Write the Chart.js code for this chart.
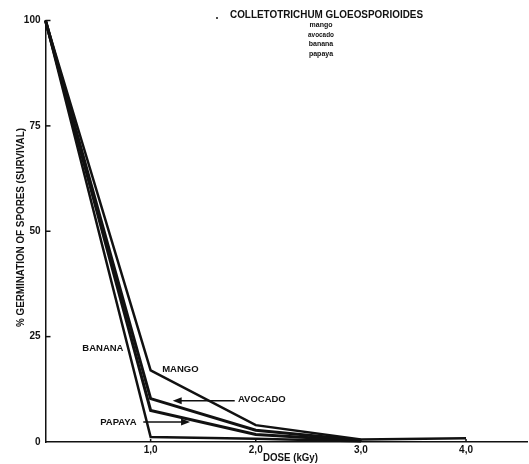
<!DOCTYPE html>
<html>
<head>
<meta charset="utf-8">
<script src="https://cdn.jsdelivr.net/npm/chart.js@4/dist/chart.umd.min.js"></script>
<style>
  html, body { margin: 0; padding: 0; background: #fff; }
  canvas { display: block; }
</style>
</head>
<body>
<canvas id="survChart" width="529" height="464"></canvas>
<script>
// spore survival vs. irradiation dose, one curve per host fruit
const doses = [0, 1, 2, 3, 4];
const mango = [100, 17, 4, 0.6, 0.9];
const avocado = [100, 10.3, 2.8, 0.4];
const papaya = [100, 7.5, 1.8, 0.3];
const banana = [100, 1.2, 0.8, 0.2];

const yTicks = [0, 25, 50, 75, 100];
const xTicks = [1, 2, 3, 4];
const xTickLabels = ['1,0', '2,0', '3,0', '4,0'];

const hosts = ['mango', 'avocado', 'banana', 'papaya'];

const FONT = '"Liberation Sans", Arial, sans-serif';
const INK = '#111';

function pts(vals) {
  return vals.map((v, i) => ({ x: doses[i], y: v }));
}

function curve(vals, w) {
  return { data: pts(vals), borderColor: INK, borderWidth: w, pointRadius: 0, tension: 0, clip: false };
}

function arrow(ctx, x1, y1, x2, y2) {
  const dir = Math.sign(x2 - x1);
  ctx.beginPath();
  ctx.moveTo(x1, y1);
  ctx.lineTo(x2 - dir * 7, y2);
  ctx.stroke();
  ctx.beginPath();
  ctx.moveTo(x2, y2);
  ctx.lineTo(x2 - dir * 9, y2 - 3.5);
  ctx.lineTo(x2 - dir * 9, y2 + 3.5);
  ctx.closePath();
  ctx.fill();
}

// curve names, placed in data units
const curveNotes = [
  { text: 'BANANA', x: 0.35, y: 22.3 },
  { text: 'MANGO', x: 1.11, y: 17.3 },
  { text: 'AVOCADO', x: 1.83, y: 10.0 },
  { text: 'PAPAYA', x: 0.52, y: 4.75 }
];

const notes = {
  id: 'notes',
  afterDraw(chart) {
    const { ctx, chartArea: area } = chart;
    const x = chart.scales.x, y = chart.scales.y;
    ctx.save();
    ctx.fillStyle = INK;
    ctx.strokeStyle = INK;

    // short tick marks pointing into the plot
    ctx.lineWidth = 1.5;
    yTicks.slice(1).forEach(v => {
      const py = y.getPixelForValue(v);
      ctx.beginPath();
      ctx.moveTo(area.left, py);
      ctx.lineTo(area.left + 5, py);
      ctx.stroke();
    });
    xTicks.forEach(v => {
      const px = x.getPixelForValue(v);
      ctx.beginPath();
      ctx.moveTo(px, area.bottom);
      ctx.lineTo(px, area.bottom - 3);
      ctx.stroke();
    });

    // axis titles
    ctx.font = 'bold 10px ' + FONT;
    ctx.textBaseline = 'middle';
    ctx.textAlign = 'left';
    ctx.fillText('DOSE (kGy)', 263, 458, 55);
    ctx.save();
    ctx.translate(21.5, 227.5);
    ctx.rotate(-Math.PI / 2);
    ctx.textAlign = 'center';
    ctx.fillText('% GERMINATION OF SPORES (SURVIVAL)', 0, 0, 199);
    ctx.restore();

    // heading block
    ctx.textAlign = 'center';
    ctx.fillText('COLLETOTRICHUM GLOEOSPORIOIDES', 326.5, 15, 193);
    ctx.beginPath();
    ctx.arc(217, 18, 1, 0, Math.PI * 2);
    ctx.fill();
    ctx.font = 'bold 7px ' + FONT;
    hosts.forEach((h, i) => ctx.fillText(h, 321, 25 + i * 9.6, 26));

    // curve labels and arrows
    ctx.font = 'bold 9.5px ' + FONT;
    ctx.textAlign = 'left';
    curveNotes.forEach(n => {
      ctx.fillText(n.text, x.getPixelForValue(n.x), y.getPixelForValue(n.y));
    });
    ctx.lineWidth = 1.5;
    arrow(ctx, x.getPixelForValue(1.8), y.getPixelForValue(9.8), x.getPixelForValue(1.21), y.getPixelForValue(9.8));
    arrow(ctx, x.getPixelForValue(0.93), y.getPixelForValue(4.75), x.getPixelForValue(1.375), y.getPixelForValue(4.75));

    ctx.restore();
  }
};

const tickFont = { family: FONT, size: 10, weight: 'bold' };

new Chart(document.getElementById('survChart'), {
  type: 'line',
  data: {
    datasets: [
      curve(mango, 2.5),
      curve(avocado, 3),
      curve(papaya, 3),
      curve(banana, 2.5)
    ]
  },
  options: {
    responsive: false,
    animation: false,
    layout: { padding: { top: 20.5, right: 2, left: 0, bottom: 0 } },
    plugins: { legend: { display: false }, tooltip: { enabled: false } },
    scales: {
      x: {
        type: 'linear',
        min: 0,
        max: 4.58,
        afterFit: s => { s.height = 22; },
        afterBuildTicks: s => { s.ticks = xTicks.map(v => ({ value: v })); },
        grid: { display: true, drawOnChartArea: false, drawTicks: false },
        border: { display: true, color: INK, width: 1.5 },
        ticks: {
          color: INK,
          font: tickFont,
          padding: 2,
          maxRotation: 0,
          autoSkip: false,
          callback: v => xTickLabels[xTicks.indexOf(v)]
        }
      },
      y: {
        type: 'linear',
        min: 0,
        max: 100,
        afterFit: s => { s.width = 45.5; },
        afterBuildTicks: s => { s.ticks = yTicks.map(v => ({ value: v })); },
        grid: { display: true, drawOnChartArea: false, drawTicks: false },
        border: { display: true, color: INK, width: 1.5 },
        ticks: { color: INK, font: tickFont, padding: 5, autoSkip: false }
      }
    }
  },
  plugins: [notes]
});
</script>
</body>
</html>
